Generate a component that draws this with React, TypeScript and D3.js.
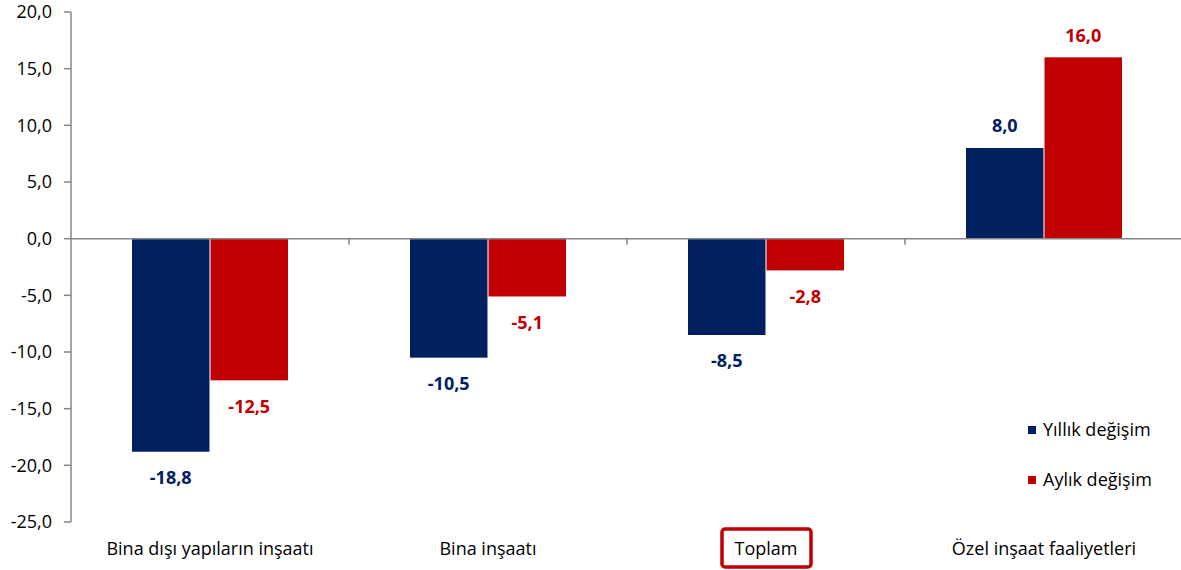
import * as d3 from 'd3';
import React, { useEffect, useRef } from 'react';

const categories = ['Bina dışı yapıların inşaatı', 'Bina inşaatı', 'Toplam', 'Özel inşaat faaliyetleri'];
const seriesNames = ['Yıllık değişim', 'Aylık değişim'];
const yillik = [-18.8, -10.5, -8.5, 8.0];
const aylik = [-12.5, -5.1, -2.8, 16.0];
const yTicks = [20, 15, 10, 5, 0, -5, -10, -15, -20, -25];
const colors = ['#002060', '#C00000'];

const width = 1181;
const height = 570;
const font = '"Open Sans", sans-serif';
const fs = 18;

const App: React.FC = () => {
  const ref = useRef<HTMLDivElement>(null);

  useEffect(() => {
    const fmt = (v: number) => v.toFixed(1).replace('.', ',');
    const values = [yillik, aylik];

    const x = d3.scaleBand<string>().domain(categories).range([71, 1183]);
    const x1 = d3
      .scaleBand<number>()
      .domain([0, 1])
      .range([61, 217])
      .paddingInner(0.013);
    const y = d3.scaleLinear().domain([-25, 20]).range([522, 12]);

    const svg = d3
      .create('svg')
      .attr('width', width)
      .attr('height', height)
      .attr('style', `display:block; font-family:${font};`);

    // y axis
    const axis = svg.append('g').attr('transform', 'translate(71,0)');
    axis.append('line').attr('y1', y(20)).attr('y2', y(-25)).attr('stroke', '#868686').attr('stroke-width', 1.5);
    axis
      .selectAll('line.tick')
      .data(yTicks)
      .join('line')
      .attr('class', 'tick')
      .attr('x1', -7)
      .attr('x2', 0)
      .attr('y1', d => y(d))
      .attr('y2', d => y(d))
      .attr('stroke', '#868686')
      .attr('stroke-width', 1.5);
    axis
      .selectAll('text')
      .data(yTicks)
      .join('text')
      .attr('x', -19)
      .attr('y', d => y(d))
      .attr('dy', '0.35em')
      .attr('text-anchor', 'end')
      .attr('font-size', fs)
      .attr('fill', '#000')
      .text(d => fmt(d));

    // bars
    categories.forEach((c, i) => {
      const g = svg.append('g').attr('transform', `translate(${x(c)!},0)`);
      values.forEach((vals, s) => {
        const v = vals[i];
        const bx = x1(s)!;
        const bw = x1.bandwidth();
        g.append('rect')
          .attr('x', bx)
          .attr('y', y(Math.max(0, v)))
          .attr('width', bw)
          .attr('height', Math.abs(y(v) - y(0)))
          .attr('fill', colors[s]);
        g.append('text')
          .attr('x', bx + bw / 2)
          .attr('y', v < 0 ? y(v) + 26 : y(v) - 22)
          .attr('dy', '0.35em')
          .attr('text-anchor', 'middle')
          .attr('font-size', fs)
          .attr('font-weight', 'bold')
          .attr('fill', colors[s])
          .text(fmt(v));
      });
    });

    // zero line with category ticks
    svg
      .append('line')
      .attr('x1', 71)
      .attr('x2', 1181)
      .attr('y1', y(0))
      .attr('y2', y(0))
      .attr('stroke', '#868686')
      .attr('stroke-width', 1.5);
    svg
      .selectAll('line.ctick')
      .data(categories.slice(1))
      .join('line')
      .attr('class', 'ctick')
      .attr('x1', d => x(d)!)
      .attr('x2', d => x(d)!)
      .attr('y1', y(0))
      .attr('y2', y(0) + 6)
      .attr('stroke', '#868686')
      .attr('stroke-width', 1.5);

    // category labels
    svg
      .selectAll('text.cat')
      .data(categories)
      .join('text')
      .attr('class', 'cat')
      .attr('x', d => x(d)! + x.bandwidth() / 2)
      .attr('y', 549)
      .attr('dy', '0.35em')
      .attr('text-anchor', 'middle')
      .attr('font-size', fs)
      .attr('fill', '#000')
      .text(d => d);

    // highlight box around Toplam
    const tx = x('Toplam')! + x.bandwidth() / 2;
    svg
      .append('rect')
      .attr('x', tx - 44)
      .attr('y', 529)
      .attr('width', 89)
      .attr('height', 38)
      .attr('rx', 3)
      .attr('fill', 'none')
      .attr('stroke', '#C00000')
      .attr('stroke-width', 3.5);

    // legend
    const legend = svg
      .selectAll('g.legend')
      .data(seriesNames)
      .join('g')
      .attr('class', 'legend')
      .attr('transform', (_, i) => `translate(1028,${430 + i * 50})`);
    legend
      .append('rect')
      .attr('x', 0)
      .attr('y', -4)
      .attr('width', 8)
      .attr('height', 8)
      .attr('fill', (_, i) => colors[i]);
    legend
      .append('text')
      .attr('x', 15)
      .attr('y', 0)
      .attr('dy', '0.35em')
      .attr('font-size', fs)
      .attr('fill', '#000')
      .text(d => d);

    d3.select(ref.current).html('');
    d3.select(ref.current).append(() => svg.node());
  }, []);

  return <div ref={ref} style={{ position: 'absolute', left: 0, top: 0 }}></div>;
};

export default App;
